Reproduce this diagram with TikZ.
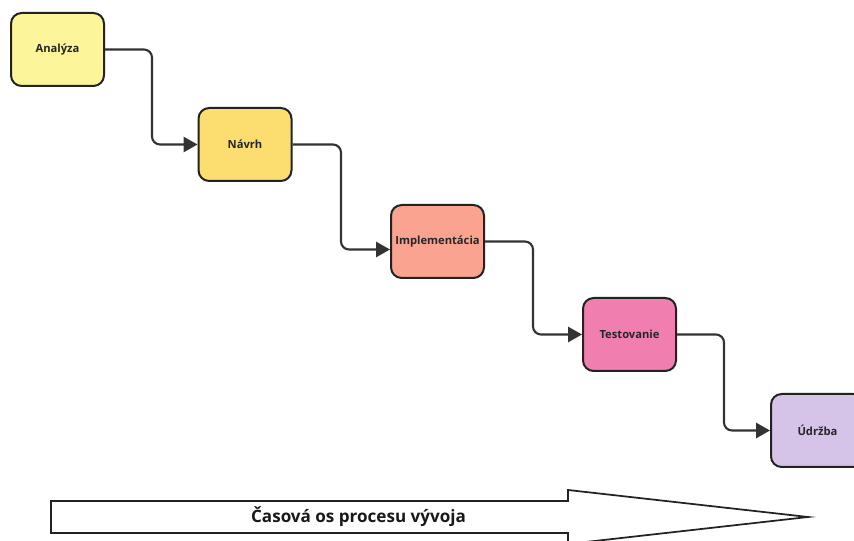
\documentclass[tikz,border=0pt]{standalone}
\usepackage{fontspec}
\setmainfont{Open Sans}
\usetikzlibrary{arrows.meta}
\definecolor{cAnal}{HTML}{FDF59A}
\definecolor{cNavrh}{HTML}{FCDE70}
\definecolor{cImpl}{HTML}{F9A390}
\definecolor{cTest}{HTML}{F07FB0}
\definecolor{cUdrz}{HTML}{D5C3E8}
\definecolor{edge}{HTML}{333333}
\definecolor{frame}{HTML}{222222}
\tikzset{
  phase/.style={draw=frame, line width=1.5pt, rounded corners=8pt,
    minimum width=69.75pt, minimum height=54.75pt, inner sep=0pt,
    font=\bfseries\fontsize{8.4}{10}\selectfont, text=black!85},
  flow/.style={draw=edge, line width=1.6pt, rounded corners=6pt,
    -{Triangle[length=10.5pt,width=11.5pt]}},
}
\begin{document}
\begin{tikzpicture}[x=0.75pt,y=-0.75pt]
\useasboundingbox (0,0) rectangle (854,541);
\fill[white] (0,0) rectangle (854,541);

% process phases
\node[phase, fill=cAnal]  (a) at (57.5,49.5)   {Analýza};
\node[phase, fill=cNavrh] (n) at (245,144.5)   {Návrh};
\node[phase, fill=cImpl]  (i) at (437.5,241.5) {Implementácia};
\node[phase, fill=cTest]  (t) at (629.5,334.5) {Testovanie};
\node[phase, fill=cUdrz]  (u) at (817.5,430.5) {Údržba};

% connectors between phases
\draw[flow] (a.east) -- (152,49.5) -- (152,144.5) -- (n.west);
\coordinate (iin) at ([yshift=-6pt]i.west);
\draw[flow] (n.east) -- (341,144.5) -- (341,249.5) -- (iin);
\draw[flow] (i.east) -- (533,241.5) -- (533,334.5) -- (t.west);
\draw[flow] (t.east) -- (724,334.5) -- (724,430.5) -- (u.west);

% time axis arrow
\draw[frame, line width=1.3pt, fill=white]
  (51,501) -- (568,501) -- (568,490) -- (808,517) -- (568,544) -- (568,533) -- (51,533) -- cycle;
\node[font=\bfseries\fontsize{12.8}{15}\selectfont, text=black!90] (axis) at (358.5,517) {Časová os procesu vývoja};
\end{tikzpicture}
\end{document}
